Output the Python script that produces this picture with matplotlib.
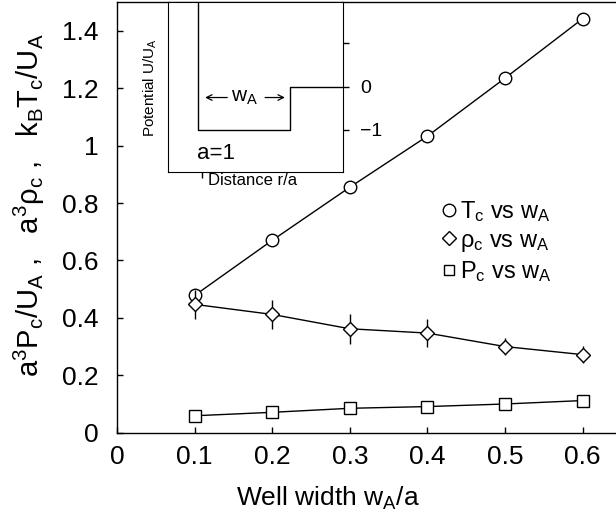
import matplotlib
matplotlib.use("Agg")
import matplotlib.pyplot as plt
from matplotlib.lines import Line2D

plt.rcParams['font.family'] = ['Liberation Sans', 'DejaVu Sans']
plt.rcParams['mathtext.default'] = 'regular'

# ---------------- DATA ----------------
w_a = [0.1, 0.2, 0.3, 0.4, 0.5, 0.6]
t_c = [0.478, 0.670, 0.855, 1.033, 1.235, 1.442]
rho_c = [0.447, 0.412, 0.362, 0.347, 0.300, 0.272]
rho_err = [0.050, 0.050, 0.052, 0.050, 0.030, 0.030]
p_c = [0.059, 0.071, 0.085, 0.091, 0.100, 0.112]

x_ticks = [0, 0.1, 0.2, 0.3, 0.4, 0.5, 0.6]
y_ticks = [0, 0.2, 0.4, 0.6, 0.8, 1.0, 1.2, 1.4]

# inset: square-well potential
well_r = [1.0, 1.0, 1.4, 1.4, 2.0]
well_u = [3.0, -1.0, -1.0, 0.0, 0.0]
inset_ticks = [1, 0, -1]
inset_labels = ["", "0", "\u22121"]

# ---------------- FIGURE ----------------
fig = plt.figure(figsize=(6.16, 5.16), dpi=100)
ax = fig.add_axes([117 / 616, 1 - 432.7 / 516, 1 - 117 / 616, (432.7 - 2) / 516])

ax.plot(w_a, t_c, color='black', lw=1.0, marker='o', ms=9,
        mfc='white', mec='black', mew=1.0, zorder=3)
ax.errorbar(w_a, rho_c, yerr=rho_err, color='black', lw=1.0, marker='D', ms=7.5,
            mfc='white', mec='black', mew=1.0, elinewidth=1.0, capsize=0, zorder=4)
ax.plot(w_a, p_c, color='black', lw=1.0, marker='s', ms=8,
        mfc='white', mec='black', mew=1.0, zorder=3)

ax.set_xlim(0, 0.643)
ax.set_ylim(0, (432.7 - 2) / 287.1)
ax.set_xticks(x_ticks)
ax.set_xticklabels(["%g" % v for v in x_ticks])
ax.set_yticks(y_ticks)
ax.set_yticklabels(["%g" % v for v in y_ticks])
ax.tick_params(direction='in', length=4, width=1, labelsize=19)
ax.tick_params(axis='x', pad=9)
ax.tick_params(axis='y', pad=13)
ax.spines['right'].set_visible(False)
for s in ['left', 'bottom', 'top']:
    ax.spines[s].set_linewidth(1.0)

ax.set_xlabel("Well width w$_A$/a", fontsize=19)
ax.xaxis.set_label_coords((328 - 117) / 499, -(485 - 432.7) / 430.7)
ax.set_ylabel("a$^3$P$_c$/U$_A$ ,   a$^3$ρ$_c$ ,   k$_B$T$_c$/U$_A$", fontsize=21)
ax.yaxis.set_label_coords(-(117 - 47) / 499, (432.7 - 205) / 430.7)

handles = [
    Line2D([], [], ls='none', marker='o', ms=9, mfc='white', mec='black'),
    Line2D([], [], ls='none', marker='D', ms=7, mfc='white', mec='black'),
    Line2D([], [], ls='none', marker='s', ms=7, mfc='white', mec='black'),
]
labels = ["T$_c$ vs w$_A$", "ρ$_c$ vs w$_A$", "P$_c$ vs w$_A$"]
fig.legend(handles, labels, loc='upper left', bbox_to_anchor=(430 / 616, 1 - 187 / 516),
           frameon=False, fontsize=17, handlelength=0.6, handletextpad=0.15,
           labelspacing=0.25, borderpad=0)

# ---------------- INSET ----------------
ins = fig.add_axes([167.7 / 616, 1 - 172 / 516, (343.3 - 167.7) / 616, (172 - 2) / 516])
ins.plot(well_r, well_u, color='black', lw=1.0)
ins.set_xlim(0.87, 1.631)
ins.set_ylim(-1.97, 1.956)
ins.yaxis.tick_right()
ins.set_yticks(inset_ticks)
ins.set_yticklabels(inset_labels)
ins.set_xticks([1.02])
ins.set_xticklabels([])
ins.tick_params(direction='out', length=4, width=1, labelsize=14, pad=8)
ins.set_xlabel("Distance r/a", fontsize=12)
ins.xaxis.set_label_coords((253 - 167.7) / 175.6, -0.005)
ins.yaxis.set_label_position('left')
ins.set_ylabel("Potential U/U$_A$", fontsize=11, labelpad=6)

w_left = well_r[1]
w_right = well_r[2]
y_arrow = -0.25
ins.annotate("", xy=(w_left + 0.02, y_arrow), xytext=(w_left + 0.14, y_arrow),
             arrowprops=dict(arrowstyle='->', lw=0.9, color='black'))
ins.annotate("", xy=(w_right - 0.01, y_arrow), xytext=(w_right - 0.12, y_arrow),
             arrowprops=dict(arrowstyle='->', lw=0.9, color='black'))
ins.text((w_left + w_right) / 2 + 0.005, y_arrow, "w$_A$", fontsize=15,
         ha='center', va='center')
ins.text(0.995, -1.55, "a=1", fontsize=16, ha='left', va='center')

fig.savefig("out.png", dpi=100)
